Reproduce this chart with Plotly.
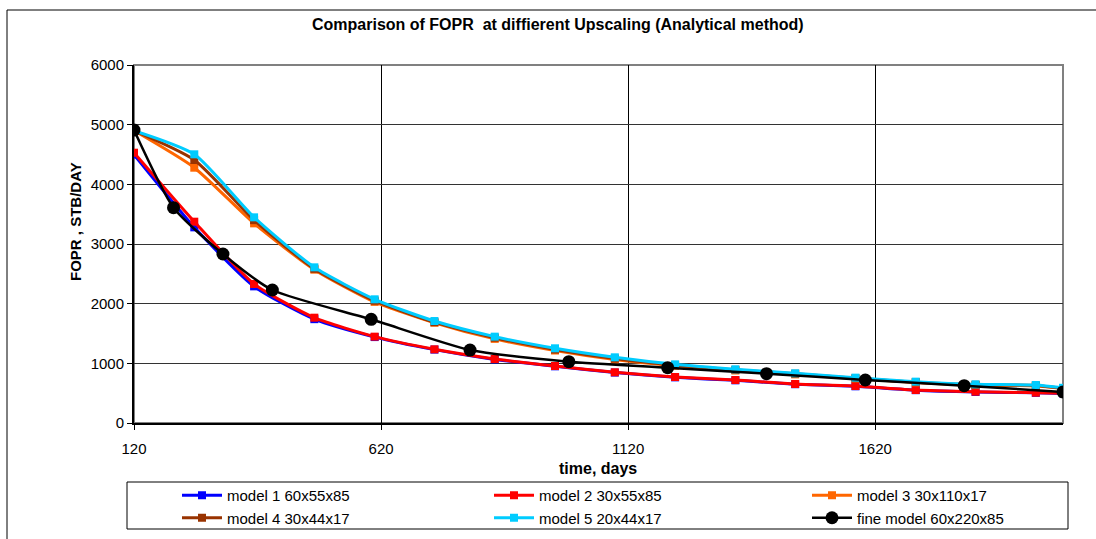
import plotly.graph_objects as go

# ---------------- data ----------------
model_days = [120, 242, 363, 485, 607, 728, 850, 972, 1093, 1215, 1337, 1458, 1580, 1702, 1823, 1945, 2000]
model1 = [4500, 3279, 2290, 1740, 1440, 1230, 1065, 950, 845, 765, 715, 650, 615, 550, 520, 505, 495]
model2 = [4530, 3374, 2330, 1765, 1447, 1235, 1073, 955, 850, 771, 721, 654, 620, 553, 525, 508, 500]
model3 = [4900, 4279, 3346, 2570, 2030, 1680, 1410, 1215, 1065, 960, 880, 815, 745, 680, 635, 622, 578]
model4 = [4900, 4408, 3400, 2585, 2050, 1690, 1430, 1232, 1080, 970, 890, 825, 750, 685, 640, 630, 580]
model5 = [4900, 4503, 3447, 2609, 2073, 1709, 1447, 1252, 1101, 983, 900, 833, 760, 693, 648, 637, 590]
fine_days = [120, 200, 300, 400, 600, 800, 1000, 1200, 1400, 1600, 1800, 2000]
fine = [4910, 3608, 2832, 2229, 1738, 1223, 1027, 927, 826, 721, 625, 520]

series_names = ["model 1 60x55x85", "model 2 30x55x85", "model 3 30x110x17",
                "model 4 30x44x17", "model 5 20x44x17", "fine model 60x220x85"]
x_ticks = [120, 620, 1120, 1620]
y_ticks = [0, 1000, 2000, 3000, 4000, 5000, 6000]

title_text = "Comparison of FOPR  at diffierent Upscaling (Analytical method)"
x_title = "time, days"
y_title = "FOPR , STB/DAY"

# ---------------- layout constants ----------------
W, H = 1096, 539
L, R, T, B = 134, 1063, 65, 423
pw, ph = R - L, B - T


def px(xp):
    return (xp - L) / pw


def py(yp):
    return (B - yp) / ph


FONT = "Liberation Sans, Arial, sans-serif"
colors = ["#0000FF", "#FF0000", "#FF6600", "#993300", "#00CCFF", "#000000"]
# legend column for each series (3 columns, 2 rows as in the reference)
legend_ids = ["legend", "legend2", "legend3", "legend", "legend2", "legend3"]

fig = go.Figure()
model_vals = [model1, model2, model3, model4, model5]
for i, (name, vals, col) in enumerate(zip(series_names[:5], model_vals, colors[:5])):
    fig.add_trace(go.Scatter(
        x=model_days, y=vals, name=name, mode="lines+markers",
        line=dict(color=col, width=3, shape="spline", smoothing=0.6),
        marker=dict(symbol="square", size=8, color=col),
        legend=legend_ids[i],
    ))
fig.add_trace(go.Scatter(
    x=fine_days, y=fine, name=series_names[5], mode="lines+markers",
    line=dict(color=colors[5], width=2.5, shape="spline", smoothing=0.6),
    marker=dict(symbol="circle", size=13, color=colors[5]),
    legend=legend_ids[5],
))


def leg(xpix):
    return dict(
        orientation="v", x=px(xpix), y=py(479), xanchor="left", yanchor="top",
        bgcolor="rgba(0,0,0,0)", borderwidth=0,
        font=dict(family=FONT, size=15, color="black"),
        itemwidth=40, traceorder="normal", tracegroupgap=0,
    )


fig.update_layout(
    width=W, height=H,
    margin=dict(l=L, r=W - R, t=T, b=H - B, autoexpand=False),
    paper_bgcolor="white", plot_bgcolor="white",
    font=dict(family=FONT, size=15, color="black"),
    showlegend=True,
    legend=leg(177),
    legend2=leg(489),
    legend3=leg(807),
    xaxis=dict(
        range=[120, 2000], tickvals=x_ticks, ticktext=[str(v) for v in x_ticks],
        showgrid=True, gridcolor="black", gridwidth=1,
        showline=True, linecolor="black", linewidth=2,
        ticks="outside", ticklen=5, tickcolor="black",
        zeroline=False, tickfont=dict(size=15), ticklabelstandoff=6,
    ),
    yaxis=dict(
        range=[0, 6000], tickvals=y_ticks,
        showgrid=True, gridcolor="#333333", gridwidth=1,
        showline=True, linecolor="black", linewidth=2,
        ticks="outside", ticklen=5, tickcolor="black",
        zeroline=False, tickfont=dict(size=15),
    ),
    shapes=[
        # outer chart border (right/bottom edges lie outside the picture)
        dict(type="rect", xref="paper", yref="paper",
             x0=px(7), x1=px(1110), y0=py(560), y1=py(10),
             line=dict(color="black", width=1), layer="below"),
        # plot area border (grey)
        dict(type="rect", xref="paper", yref="paper",
             x0=0, x1=1, y0=0, y1=1,
             line=dict(color="#808080", width=2), layer="below"),
        # legend box
        dict(type="rect", xref="paper", yref="paper",
             x0=px(127), x1=px(1068), y0=py(529), y1=py(482),
             line=dict(color="black", width=1), layer="below"),
    ],
    annotations=[
        dict(text="<b>" + title_text + "</b>", xref="paper", yref="paper",
             x=px(558), y=py(24), showarrow=False, xanchor="center", yanchor="middle",
             font=dict(size=16)),
        dict(text="<b>" + x_title + "</b>", xref="paper", yref="paper",
             x=px(598), y=py(468), showarrow=False, xanchor="center", yanchor="middle",
             font=dict(size=16)),
        dict(text="<b>" + y_title + "</b>", xref="paper", yref="paper",
             x=px(75), y=py(222), showarrow=False, xanchor="center", yanchor="middle",
             textangle=-90, font=dict(size=15)),
    ],
)

fig.write_html("out.html")
